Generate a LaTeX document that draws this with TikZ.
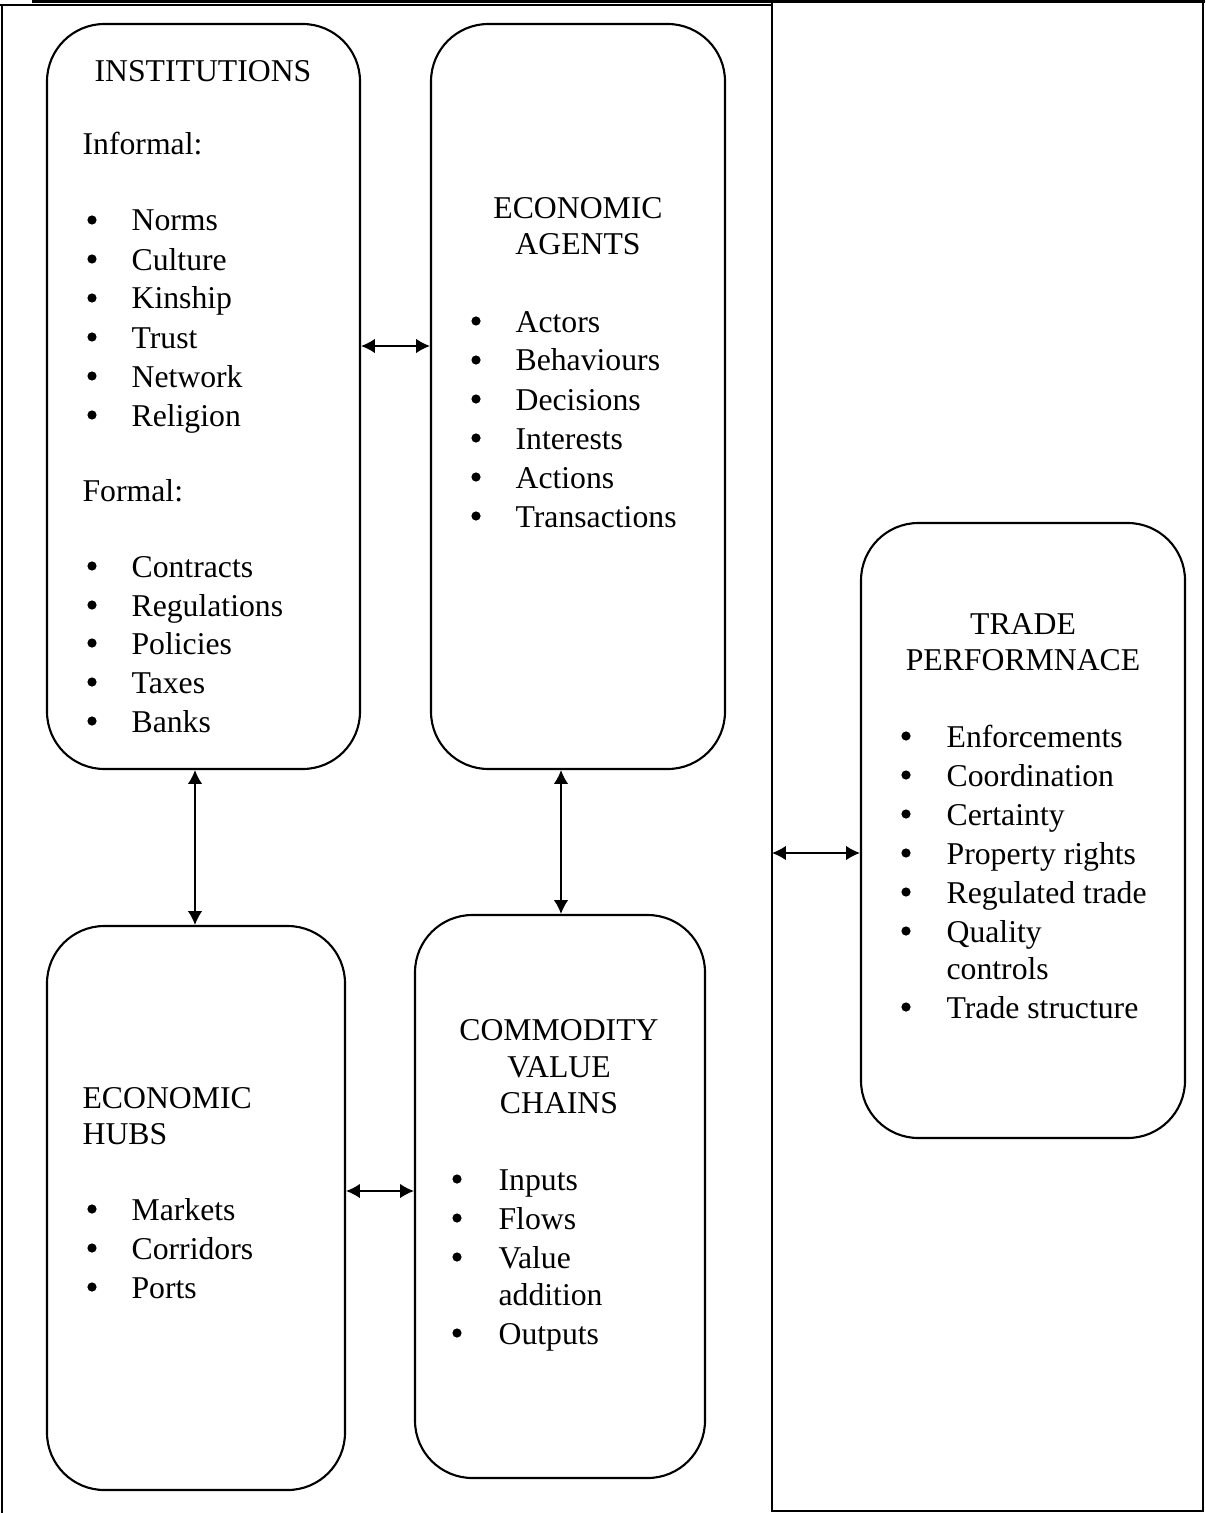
\documentclass[tikz,border=0pt]{standalone}
\usepackage{fontspec}
\setmainfont{Liberation Serif}
\usetikzlibrary{fit,arrows.meta}
\begin{document}
\begin{tikzpicture}[x=0.331pt,y=-0.331pt,
  font=\fontsize{10.5pt}{12.9pt}\selectfont,
  box/.style={draw,line width=0.7pt,rounded corners=19pt,inner sep=0pt},
  txt/.style={inner sep=0pt,anchor=base west},
  ctr/.style={inner sep=0pt,anchor=base},
  item/.style={inner sep=0pt,anchor=base west},
  arr/.style={line width=0.5pt,{Latex[length=4.6pt,width=4.8pt]}-{Latex[length=4.6pt,width=4.8pt]}},
  frame/.style={line width=0.6pt}]
\useasboundingbox (0,0) rectangle (1205,1513);
% frame
\draw[line width=1.1pt] (32,1.5) -- (1205,1.5);
\draw[frame] (0,5) -- (772,5);
\draw[frame] (2,5) -- (2,1513);
\draw[frame] (772,3) -- (772,1511) -- (1203,1511) -- (1203,3);
\coordinate (div) at (772,853);
% boxes
\node[box,fit={(47,24) (360,769)}] (inst) {};
\node[box,fit={(431,24) (725,769)}] (agents) {};
\node[box,fit={(47,926) (345,1490)}] (hubs) {};
\node[box,fit={(415,915) (705,1478)}] (cvc) {};
\node[box,fit={(861,523) (1185,1138)}] (trade) {};
% institutions
\node[ctr] (inst-t) at (203,82) {INSTITUTIONS};
\node[txt] (inst-inf) at (82,155) {Informal:};
\foreach \y/\t [count=\i] in {231/Norms,270/Culture,309/Kinship,348/Trust,387/Network,426/Religion}{
  \node[item] (inst-a\i) at (131,\y) {\t};
  \fill (92,\y-11) circle[radius=4.6];}
\node[txt] (inst-for) at (82,501) {Formal:};
\foreach \y/\t [count=\i] in {577/Contracts,616/Regulations,654/Policies,693/Taxes,732/Banks}{
  \node[item] (inst-b\i) at (131,\y) {\t};
  \fill (92,\y-11) circle[radius=4.6];}
% agents
\node[ctr] (ag-t1) at (578,219) {ECONOMIC};
\node[ctr] (ag-t2) at (578,255) {AGENTS};
\foreach \y/\t [count=\i] in {332/Actors,371/Behaviours,410/Decisions,449/Interests,488/Actions,527/Transactions}{
  \node[item] (ag-\i) at (515,\y) {\t};
  \fill (476,\y-11) circle[radius=4.6];}
% trade
\node[ctr] (tr-t1) at (1023,634) {TRADE};
\node[ctr] (tr-t2) at (1023,670) {PERFORMNACE};
\foreach \y/\t [count=\i] in {747/Enforcements,786/Coordination,825/Certainty,864/Property rights,903/Regulated trade,942/Quality,1018/Trade structure}{
  \node[item] (tr-\i) at (946,\y) {\t};
  \fill (906,\y-11) circle[radius=4.6];}
\node[txt] (tr-c) at (946,979) {controls};
% hubs
\node[txt] (hub-t1) at (82,1108) {ECONOMIC};
\node[txt] (hub-t2) at (82,1144) {HUBS};
\foreach \y/\t [count=\i] in {1220/Markets,1259/Corridors,1298/Ports}{
  \node[item] (hub-\i) at (131,\y) {\t};
  \fill (92,\y-11) circle[radius=4.6];}
% commodity value chains
\node[ctr] (cv-t1) at (559,1040) {COMMODITY};
\node[ctr] (cv-t2) at (559,1077) {VALUE};
\node[ctr] (cv-t3) at (559,1113) {CHAINS};
\foreach \y/\t [count=\i] in {1190/Inputs,1229/Flows,1268/Value,1344/Outputs}{
  \node[item] (cv-\i) at (498,\y) {\t};
  \fill (457,\y-11) circle[radius=4.6];}
\node[txt] (cv-a) at (498,1305) {addition};
% arrows
\draw[arr] (inst.east |- 0,346) -- (agents.west |- 0,346);
\draw[arr] (inst.south -| 195,0) -- (hubs.north -| 195,0);
\draw[arr] (agents.south -| 561,0) -- (cvc.north -| 561,0);
\draw[arr] (hubs.east |- 0,1191) -- (cvc.west |- 0,1191);
\draw[arr] (div) -- (trade.west |- div);
\end{tikzpicture}
\end{document}
